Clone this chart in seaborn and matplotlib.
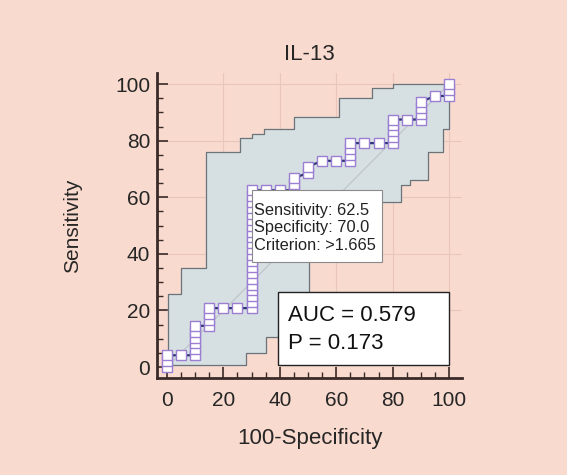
import numpy as np
import pandas as pd
import matplotlib
matplotlib.use("Agg")
import matplotlib.pyplot as plt
from matplotlib.patches import Rectangle
import seaborn as sns

# ROC operating points as counts (20 negatives, 48 positives)
n_neg = 20
n_pos = 48
fp_count = [0, 0, 0, 1, 2, 2, 2, 2, 2, 2, 3, 3, 3, 3, 4, 5, 6,
            6, 6, 6, 6, 6, 6, 6, 6, 6, 6, 6, 6, 6, 6, 6, 6, 6, 6, 6, 6,
            7, 8, 9, 9, 9, 10, 10, 11, 12, 13, 13, 13, 13, 14, 15, 16,
            16, 16, 16, 16, 17, 18, 18, 18, 18, 19, 20, 20, 20]
tp_count = [0, 1, 2, 2, 2, 3, 4, 5, 6, 7, 7, 8, 9, 10, 10, 10, 10,
            11, 12, 13, 14, 15, 16, 17, 18, 19, 20, 21, 22, 23, 24, 25, 26, 27, 28, 29, 30,
            30, 30, 30, 31, 32, 33, 34, 35, 35, 35, 36, 37, 38, 38, 38, 38,
            39, 40, 41, 42, 42, 42, 43, 44, 45, 46, 46, 47, 48]

# 95% confidence band (step outlines)
upper_x = [0.5, 0.5, 5, 5, 14, 14, 26, 26, 30, 30, 34.5, 34.5, 45, 45, 61, 61, 72.5, 72.5, 80, 80, 100]
upper_y = [0.7, 26, 26, 35, 35, 76, 76, 81, 81, 82.5, 82.5, 84, 84, 88.5, 88.5, 95, 95, 98.5, 98.5, 100, 100]
lower_x = [0.5, 28, 28, 35, 35, 50.5, 50.5, 83, 83, 86, 86, 92.5, 92.5, 98, 98, 100, 100]
lower_y = [0.7, 0.7, 5, 5, 10.7, 10.7, 58.5, 58.5, 64.5, 64.5, 66, 66, 76, 76, 84, 84, 100]

title = "IL-13"
auc_text = "AUC = 0.579\nP = 0.173"
tip_text = "Sensitivity: 62.5\nSpecificity: 70.0\nCriterion: >1.665"

roc = pd.DataFrame({
    "fpr": np.array(fp_count) / n_neg * 100,
    "tpr": np.array(tp_count) / n_pos * 100,
})

bg = "#f9dace"
sns.set_style("ticks")
plt.rcParams["font.family"] = ["Liberation Sans", "DejaVu Sans"]

fig = plt.figure(figsize=(5.67, 4.75), dpi=100, facecolor=bg)
ax = fig.add_axes([0.277, 0.204, 0.538, 0.642], facecolor=bg)

# faint grid
for v in [20, 40, 60, 80, 100]:
    ax.axvline(v, color="#e8c6bb", lw=0.8, zorder=0)
    ax.axhline(v, color="#e8c6bb", lw=0.8, zorder=0)

# confidence band
poly_x = upper_x + lower_x[::-1]
poly_y = upper_y + lower_y[::-1]
ax.fill(poly_x, poly_y, color="#d6dfe1", zorder=1)
ax.plot(upper_x, upper_y, color="#6e7378", lw=0.9, zorder=2)
ax.plot(lower_x, lower_y, color="#6e7378", lw=0.9, zorder=2)

# reference diagonal
ax.plot([0, 100], [0, 100], color="#bfc3c8", lw=0.8, zorder=2)

# ROC curve
sns.lineplot(data=roc, x="fpr", y="tpr", sort=False, estimator=None, ax=ax,
             color="#2f3578", lw=1.6, marker="s", markersize=7,
             markerfacecolor="white", markeredgecolor="#9a7fd2",
             markeredgewidth=1.0, zorder=3)

# tooltip box
ax.add_patch(Rectangle((30.3, 37.2), 45.8, 25.3, facecolor="white",
                       edgecolor="#8a8a8a", lw=0.8, zorder=4))
ax.text(30.8, 49.3, tip_text, fontsize=11.8, va="center", ha="left", linespacing=1.2,
        color="#222222", zorder=5)

# AUC box
ax.add_patch(Rectangle((39.5, 0.7), 60.5, 25.8, facecolor="white",
                       edgecolor="#222222", lw=1.0, zorder=4))
ax.text(43, 13.3, auc_text, fontsize=16, va="center", ha="left", linespacing=1.45,
        color="#111111", zorder=5)

ax.set_xlim(-3.5, 104.6)
ax.set_ylim(-3.9, 103.9)
ax.set_xticks([0, 20, 40, 60, 80, 100])
ax.set_yticks([0, 20, 40, 60, 80, 100])
ax.set_xticks(np.arange(0, 101, 5), minor=True)
ax.set_yticks(np.arange(0, 101, 5), minor=True)
ax.tick_params(which="major", direction="in", length=8, width=1.2, color="#3a2a28",
               labelsize=15)
ax.tick_params(axis="x", which="major", pad=9.5)
ax.tick_params(axis="y", which="major", pad=5)
ax.tick_params(which="minor", direction="in", length=4.5, width=1.0, color="#3a2a28")

sns.despine(ax=ax)
for s in ["left", "bottom"]:
    ax.spines[s].set_linewidth(2)
    ax.spines[s].set_color("#3a2a28")

ax.set_title(title, fontsize=16, pad=9.5)
ax.set_xlabel("100-Specificity", fontsize=16, labelpad=13)
ax.set_ylabel("Sensitivity", fontsize=15, labelpad=24)

fig.savefig("out.png", dpi=100, facecolor=bg)
